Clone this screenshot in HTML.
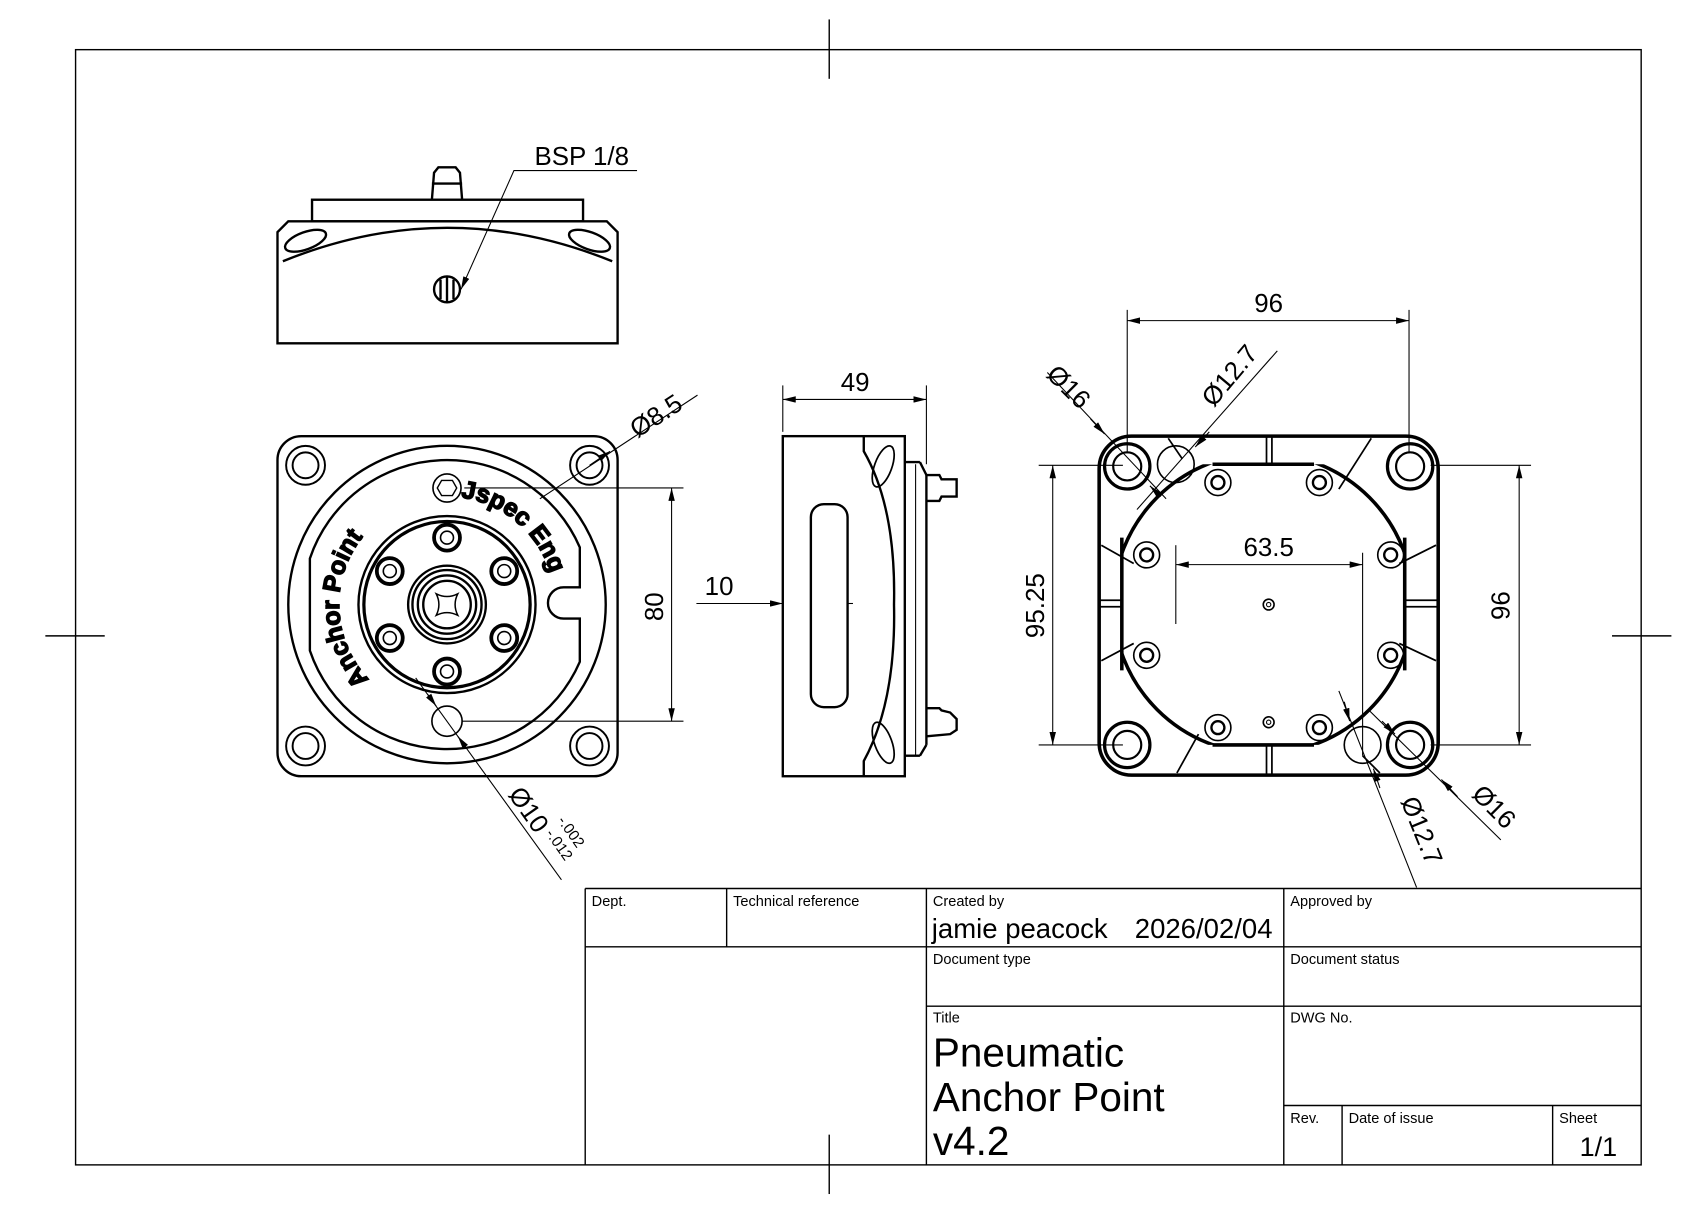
<!DOCTYPE html>
<html><head><meta charset="utf-8"><style>
html,body{margin:0;padding:0;background:#fff;}
svg{display:block;}
text{font-family:"Liberation Sans",sans-serif;fill:#000;}
</style></head><body>
<svg width="1693" height="1214" viewBox="0 0 1568 1124.5" preserveAspectRatio="none" xmlns="http://www.w3.org/2000/svg">
<defs>
<marker id="a" viewBox="0 0 12 6" refX="12" refY="3" markerWidth="12" markerHeight="6" orient="auto" markerUnits="userSpaceOnUse"><path d="M0,0L12,3L0,6z" fill="#000"/></marker>
<marker id="b" viewBox="0 0 12 6" refX="0" refY="3" markerWidth="12" markerHeight="6" orient="auto" markerUnits="userSpaceOnUse"><path d="M12,0L0,3L12,6z" fill="#000"/></marker>
<clipPath id="sq"><rect x="1039" y="430" width="262" height="260"/></clipPath>
<path id="arcJ" d="M422.7,460.4 A100,100 0 0 1 513.6,551.3"/>
<path id="arcA" d="M343.3,630.7 A100,100 0 0 1 343.3,489.3"/>
</defs>
<g fill="none" stroke="#000" stroke-width="1.3">
<rect x="70" y="46" width="1450" height="1033"/>
<line x1="768" y1="18" x2="768" y2="73"/><line x1="768" y1="1051" x2="768" y2="1106"/>
<line x1="42" y1="589" x2="97" y2="589"/><line x1="1493" y1="589" x2="1548" y2="589"/>
<line x1="542" y1="823" x2="1520" y2="823"/><line x1="542" y1="823" x2="542" y2="1079"/>
<line x1="542" y1="877" x2="1520" y2="877"/><line x1="858" y1="932" x2="1520" y2="932"/>
<line x1="1189" y1="1024" x2="1520" y2="1024"/>
<line x1="673" y1="823" x2="673" y2="877"/><line x1="858" y1="823" x2="858" y2="1079"/>
<line x1="1189" y1="823" x2="1189" y2="1079"/><line x1="1243" y1="1024" x2="1243" y2="1079"/>
<line x1="1438" y1="1024" x2="1438" y2="1079"/>
</g>
<g font-size="13.5">
<text x="548" y="839">Dept.</text><text x="679" y="839">Technical reference</text>
<text x="864" y="839">Created by</text><text x="1195" y="839">Approved by</text>
<text x="864" y="893">Document type</text><text x="1195" y="893">Document status</text>
<text x="864" y="947">Title</text><text x="1195" y="947">DWG No.</text>
<text x="1195" y="1040">Rev.</text><text x="1249" y="1040">Date of issue</text><text x="1444" y="1040">Sheet</text>
</g>
<text x="863" y="869" font-size="25.5">jamie peacock</text><text x="1051" y="869" font-size="25.5">2026/02/04</text>
<text x="864" y="988" font-size="37.5">Pneumatic</text><text x="864" y="1029" font-size="37.5">Anchor Point</text><text x="864" y="1070" font-size="37.5">v4.2</text>
<text x="1463" y="1071" font-size="25">1/1</text>

<!-- TOP VIEW -->
<g fill="none" stroke="#000" stroke-width="2.2">
<path d="M267,205 L562,205 L572,215 L572,318 L257,318 L257,215 Z"/>
<rect x="289" y="185" width="251" height="20"/>
<path d="M400,185 L402,160 L406,155 L422,155 L426,160 L428,185"/>
<line x1="400" y1="170" x2="428" y2="170"/>
<ellipse cx="283" cy="223" rx="20" ry="8" transform="rotate(-20 283 223)"/>
<ellipse cx="546" cy="223" rx="20" ry="8" transform="rotate(20 546 223)"/>
<path d="M262,242 Q414,180 567,242"/>
<circle cx="414" cy="268" r="12"/>
<line x1="408" y1="259" x2="408" y2="277"/><line x1="414" y1="256" x2="414" y2="280"/><line x1="420" y1="259" x2="420" y2="277"/>
</g>
<path d="M427,268 L476,158 L590,158" fill="none" stroke="#000" stroke-width="1" marker-start="url(#b)"/>
<text x="495" y="153" font-size="24">BSP 1/8</text>

<!-- FRONT VIEW -->
<g fill="none" stroke="#000" stroke-width="2.2">
<rect x="257" y="404" width="315" height="315" rx="22"/>
<g stroke-width="1.8">
<circle cx="283" cy="431" r="18"/><circle cx="283" cy="431" r="12"/>
<circle cx="546" cy="431" r="18"/><circle cx="546" cy="431" r="12"/>
<circle cx="283" cy="691" r="18"/><circle cx="283" cy="691" r="12"/>
<circle cx="546" cy="691" r="18"/><circle cx="546" cy="691" r="12"/>
</g>
<circle cx="414" cy="560" r="147"/>
<path d="M537,544 L537,507 A134,134 0 0 0 287,517.3 L287,602.7 A134,134 0 0 0 537,613 L537,573 L522,573 A14.5,14.5 0 0 1 522,544 Z"/>
<circle cx="414" cy="560" r="82"/><circle cx="414" cy="560" r="77" stroke-width="3"/>
<circle cx="414" cy="560" r="36"/><circle cx="414" cy="560" r="32"/><circle cx="414" cy="560" r="27"/><circle cx="414" cy="560" r="22"/>
<path d="M404,550 Q414,555 424,550 Q419,560 424,570 Q414,565 404,570 Q409,560 404,550 Z" stroke-width="1.4"/>
<g stroke-width="3.5"><circle cx="414" cy="498" r="12"/><circle cx="467" cy="529" r="12"/><circle cx="467" cy="591" r="12"/><circle cx="414" cy="622" r="12"/><circle cx="361" cy="591" r="12"/><circle cx="361" cy="529" r="12"/></g>
<g stroke-width="1.5"><circle cx="414" cy="498" r="6"/><circle cx="467" cy="529" r="6"/><circle cx="467" cy="591" r="6"/><circle cx="414" cy="622" r="6"/><circle cx="361" cy="591" r="6"/><circle cx="361" cy="529" r="6"/></g>
<circle cx="414" cy="668" r="14" stroke-width="1.5"/>
<circle cx="414" cy="452" r="13" stroke-width="1.5"/><path d="M405,452 L409,445 L419,445 L423,452 L419,459 L409,459 Z" stroke-width="1.3"/>
</g>
<text font-size="23" font-weight="bold" fill="#fff" stroke="#000" stroke-width="1.3"><textPath href="#arcJ" startOffset="4">Jspec Eng</textPath></text>
<text font-size="23" font-weight="bold" fill="#fff" stroke="#000" stroke-width="1.3"><textPath href="#arcA" startOffset="2">Anchor Point</textPath></text>
<g fill="none" stroke="#000" stroke-width="1">
<line x1="430" y1="452" x2="633" y2="452"/><line x1="428" y1="668" x2="633" y2="668"/>
<line x1="622" y1="452" x2="622" y2="668" marker-start="url(#b)" marker-end="url(#a)"/>
<line x1="500" y1="462" x2="646" y2="366"/>
<line x1="546" y1="431" x2="565" y2="418" marker-end="url(#a)"/>
<line x1="385" y1="628" x2="520" y2="815"/>
<line x1="396" y1="643" x2="404" y2="654" marker-end="url(#a)"/>
<line x1="432" y1="693" x2="424" y2="682" marker-end="url(#a)"/>
</g>
<text transform="translate(614,562) rotate(-90)" font-size="24" text-anchor="middle">80</text>
<text transform="translate(612,392) rotate(-33)" font-size="24" text-anchor="middle">Ø8.5</text>
<text transform="translate(470,736) rotate(55)" font-size="24">Ø10</text>
<text transform="translate(516,760) rotate(55)" font-size="14">-.002</text>
<text transform="translate(505,772) rotate(55)" font-size="14">-.012</text>

<!-- SIDE VIEW -->
<g fill="none" stroke="#000" stroke-width="2.2">
<rect x="725" y="404" width="113" height="315"/>
<rect x="751" y="467" width="34" height="188" rx="12"/>
<path d="M800,404 L800,418 Q830,470 828,560 Q830,650 800,705 L800,719"/>
<ellipse cx="818" cy="432" rx="8" ry="20" transform="rotate(20 818 432)" stroke-width="1.6"/>
<ellipse cx="818" cy="688" rx="8" ry="20" transform="rotate(-20 818 688)" stroke-width="1.6"/>
<line x1="838" y1="428" x2="852" y2="428"/><line x1="852" y1="428" x2="858" y2="440"/>
<line x1="858" y1="440" x2="858" y2="690"/><line x1="838" y1="700" x2="852" y2="700"/><line x1="852" y1="700" x2="858" y2="690"/>
<line x1="848" y1="430" x2="848" y2="700" stroke-width="1"/>
<path d="M858,440 L870,440 L872,444 L886,444 L886,460 L872,460 L870,464 L858,464"/>
<path d="M858,656 L870,656 L872,658 L880,660 L886,666 L886,676 L880,680 L858,682"/>
</g>
<g fill="none" stroke="#000" stroke-width="1">
<line x1="725" y1="357" x2="725" y2="400"/><line x1="858" y1="357" x2="858" y2="430"/>
<line x1="725" y1="370" x2="858" y2="370" marker-start="url(#b)" marker-end="url(#a)"/>
<line x1="645" y1="559" x2="725" y2="559" marker-end="url(#a)"/>
<line x1="785" y1="559" x2="790" y2="559"/>
</g>
<text x="792" y="362" font-size="24" text-anchor="middle">49</text>
<text x="666" y="551" font-size="24" text-anchor="middle">10</text>

<!-- RIGHT VIEW -->
<g fill="none" stroke="#000" stroke-width="3.3">
<rect x="1018" y="404" width="314" height="314" rx="30"/>
<circle cx="1170" cy="559" r="139" clip-path="url(#sq)"/>
<line x1="1039" y1="498" x2="1039" y2="621"/><line x1="1301" y1="498" x2="1301" y2="621"/>
<line x1="1123" y1="430" x2="1217" y2="430"/><line x1="1123" y1="690" x2="1217" y2="690"/>
</g>
<g fill="none" stroke="#000" stroke-width="1.6">
<line x1="1173" y1="404" x2="1173" y2="430"/><line x1="1178" y1="404" x2="1178" y2="430"/>
<line x1="1173" y1="690" x2="1173" y2="718"/><line x1="1178" y1="690" x2="1178" y2="718"/>
<line x1="1018" y1="556" x2="1039" y2="556"/><line x1="1018" y1="562" x2="1039" y2="562"/>
<line x1="1301" y1="556" x2="1332" y2="556"/><line x1="1301" y1="562" x2="1332" y2="562"/>
<line x1="1020" y1="505" x2="1050" y2="522"/><line x1="1020" y1="612" x2="1050" y2="596"/>
<line x1="1330" y1="505" x2="1296" y2="522"/><line x1="1330" y1="612" x2="1296" y2="596"/>
<line x1="1270" y1="406" x2="1240" y2="453"/><line x1="1090" y1="716" x2="1110" y2="680"/>
<line x1="1082" y1="406" x2="1095" y2="425"/>
<line x1="1278" y1="716" x2="1262" y2="700"/>
</g>
<g fill="none" stroke="#000">
<g stroke-width="3"><circle cx="1044" cy="432" r="21"/><circle cx="1306" cy="432" r="21"/><circle cx="1044" cy="690" r="21"/><circle cx="1306" cy="690" r="21"/></g>
<g stroke-width="2"><circle cx="1044" cy="432" r="13"/><circle cx="1306" cy="432" r="13"/><circle cx="1044" cy="690" r="13"/><circle cx="1306" cy="690" r="13"/></g>
<g stroke-width="1.5">
<circle cx="1128" cy="447" r="12"/><circle cx="1222" cy="447" r="12"/><circle cx="1062" cy="514" r="12"/><circle cx="1288" cy="514" r="12"/>
<circle cx="1062" cy="607" r="12"/><circle cx="1288" cy="607" r="12"/><circle cx="1128" cy="674" r="12"/><circle cx="1222" cy="674" r="12"/>
</g>
<g stroke-width="2.2">
<circle cx="1128" cy="447" r="6"/><circle cx="1222" cy="447" r="6"/><circle cx="1062" cy="514" r="6"/><circle cx="1288" cy="514" r="6"/>
<circle cx="1062" cy="607" r="6"/><circle cx="1288" cy="607" r="6"/><circle cx="1128" cy="674" r="6"/><circle cx="1222" cy="674" r="6"/>
</g>
<circle cx="1089" cy="430" r="17" stroke-width="1.5"/><circle cx="1262" cy="690" r="17" stroke-width="1.5"/>
<circle cx="1175" cy="560" r="5" stroke-width="1.5"/><circle cx="1175" cy="560" r="2" stroke-width="1"/>
<circle cx="1175" cy="669" r="5" stroke-width="1.5"/><circle cx="1175" cy="669" r="2" stroke-width="1"/>
</g>
<g fill="none" stroke="#000" stroke-width="1">
<line x1="1044" y1="287" x2="1044" y2="420"/><line x1="1305" y1="287" x2="1305" y2="420"/>
<line x1="1044" y1="297" x2="1305" y2="297" marker-start="url(#b)" marker-end="url(#a)"/>
<line x1="1089" y1="505" x2="1089" y2="578"/><line x1="1262" y1="512" x2="1262" y2="700"/>
<line x1="1089" y1="523" x2="1262" y2="523" marker-start="url(#b)" marker-end="url(#a)"/>
<line x1="962" y1="431" x2="1040" y2="431"/><line x1="962" y1="690" x2="1040" y2="690"/>
<line x1="975" y1="431" x2="975" y2="690" marker-start="url(#b)" marker-end="url(#a)"/>
<line x1="1325" y1="431" x2="1418" y2="431"/><line x1="1325" y1="690" x2="1418" y2="690"/>
<line x1="1407" y1="431" x2="1407" y2="690" marker-start="url(#b)" marker-end="url(#a)"/>
<line x1="970" y1="345" x2="1080" y2="462"/>
<line x1="1010" y1="388" x2="1023" y2="402" marker-end="url(#a)"/>
<line x1="1075" y1="460" x2="1065" y2="450" marker-end="url(#a)"/>
<line x1="1183" y1="325" x2="1053" y2="472"/>
<line x1="1120" y1="400" x2="1107" y2="414" marker-end="url(#a)"/>
<line x1="1390" y1="778" x2="1268" y2="658"/>
<line x1="1350" y1="738" x2="1335" y2="722" marker-end="url(#a)"/>
<line x1="1280" y1="668" x2="1292" y2="680" marker-end="url(#a)"/>
<line x1="1312" y1="822" x2="1240" y2="640"/>
<line x1="1245" y1="650" x2="1250" y2="668" marker-end="url(#a)"/>
<line x1="1278" y1="730" x2="1272" y2="712" marker-end="url(#a)"/>
</g>
<text x="1175" y="289" font-size="24" text-anchor="middle">96</text>
<text x="1175" y="515" font-size="24" text-anchor="middle">63.5</text>
<text transform="translate(967,561) rotate(-90)" font-size="24" text-anchor="middle">95.25</text>
<text transform="translate(1398,561) rotate(-90)" font-size="24" text-anchor="middle">96</text>
<text transform="translate(968,348) rotate(45)" font-size="24">Ø16</text>
<text transform="translate(1124,378) rotate(-50)" font-size="24">Ø12.7</text>
<text transform="translate(1362,737) rotate(45)" font-size="24">Ø16</text>
<text transform="translate(1297,742) rotate(68)" font-size="24">Ø12.7</text>
</svg>
</body></html>
